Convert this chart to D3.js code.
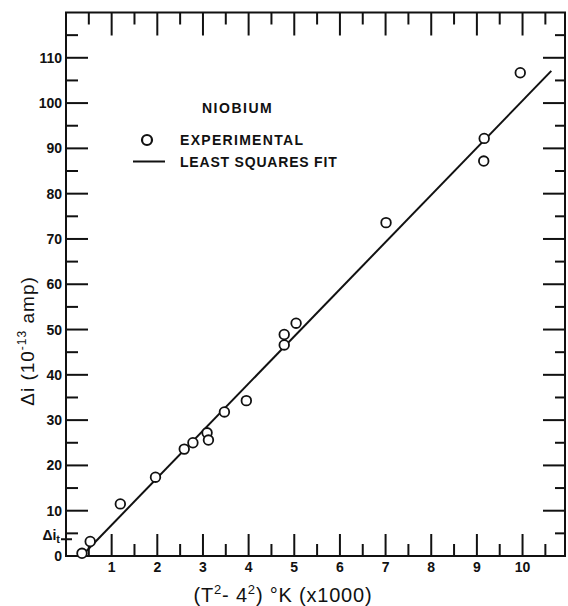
<html>
<head>
	<meta charset="utf-8">
	<title>Niobium</title>
</head>
<style>
	body { margin: 0; background: #fff; }
	.lab { font-family: "Liberation Sans", Arial, sans-serif; font-weight: bold; font-size: 14px; fill: #111; }
	.title { font-family: "Liberation Sans", Arial, sans-serif; fill: #111; }
</style>
<body>
	<script src="https://cdn.jsdelivr.net/npm/d3@7"></script>
	<script>
	// measured points (T^2 - 4^2, x1000) vs delta i (10^-13 amp)
	var expX = [0.35, 0.53, 1.19, 1.96, 2.59, 2.78, 3.09, 3.12, 3.47, 3.95, 4.78, 4.78, 5.04, 7.01, 9.15, 9.16, 9.95];
	var expY = [0.6, 3.2, 11.5, 17.4, 23.6, 25.0, 27.2, 25.6, 31.8, 34.3, 46.6, 48.9, 51.4, 73.6, 87.2, 92.2, 106.7];
	// least squares fit end points
	var fitX = [0.39, 10.63];
	var fitY = [0.5, 107.1];
	var xTicks = [1, 2, 3, 4, 5, 6, 7, 8, 9, 10];
	var yTicks = [0, 10, 20, 30, 40, 50, 60, 70, 80, 90, 100, 110];
	var threshold = 3.7;

	var width = 568, height = 606;
	var fLeft = 66, fRight = 565, fTop = 12.5, fBottom = 556;

	var svg = d3.select("body").append("svg")
		.attr("width", width)
		.attr("height", height);

	var x = d3.scaleLinear().domain([0, 10.93]).range([fLeft, fRight]);
	var y = d3.scaleLinear().domain([0, 120]).range([fBottom, fTop]);

	// tick lists for the frame (majors on the integers / tens, minors between)
	var xMinor = d3.range(0.5, 10.9, 1);
	var yMinor = d3.range(5, 120, 10);

	var g = svg.append("g").attr("stroke", "#111").attr("stroke-width", 2).attr("fill", "none");

	// bottom + top ticks
	g.selectAll(".xb").data(xTicks).enter().append("line")
		.attr("x1", function(d){return x(d);}).attr("x2", function(d){return x(d);})
		.attr("y1", fBottom).attr("y2", fBottom - 22);
	g.selectAll(".xbm").data(xMinor).enter().append("line")
		.attr("x1", function(d){return x(d);}).attr("x2", function(d){return x(d);})
		.attr("y1", fBottom).attr("y2", fBottom - 12);
	g.selectAll(".xt").data(xTicks).enter().append("line")
		.attr("x1", function(d){return x(d);}).attr("x2", function(d){return x(d);})
		.attr("y1", fTop).attr("y2", fTop + 23);
	g.selectAll(".xtm").data(xMinor).enter().append("line")
		.attr("x1", function(d){return x(d);}).attr("x2", function(d){return x(d);})
		.attr("y1", fTop).attr("y2", fTop + 12);

	// left + right ticks
	g.selectAll(".yl").data(yTicks.slice(1)).enter().append("line")
		.attr("x1", fLeft).attr("x2", fLeft + 22)
		.attr("y1", function(d){return y(d);}).attr("y2", function(d){return y(d);});
	g.selectAll(".ylm").data(yMinor).enter().append("line")
		.attr("x1", fLeft).attr("x2", fLeft + 12)
		.attr("y1", function(d){return y(d);}).attr("y2", function(d){return y(d);});
	g.selectAll(".yr").data(yTicks.slice(1)).enter().append("line")
		.attr("x1", fRight).attr("x2", fRight - 22)
		.attr("y1", function(d){return y(d);}).attr("y2", function(d){return y(d);});
	g.selectAll(".yrm").data(yMinor).enter().append("line")
		.attr("x1", fRight).attr("x2", fRight - 10)
		.attr("y1", function(d){return y(d);}).attr("y2", function(d){return y(d);});

	// threshold mark
	g.append("line")
		.attr("x1", fLeft - 5).attr("x2", fLeft + 6)
		.attr("y1", y(threshold)).attr("y2", y(threshold));

	// frame
	g.append("rect")
		.attr("x", fLeft).attr("y", fTop)
		.attr("width", fRight - fLeft).attr("height", fBottom - fTop);

	// tick labels
	svg.selectAll(".xlab").data(xTicks).enter().append("text")
		.attr("class", "lab")
		.attr("x", function(d){return x(d);})
		.attr("y", 572)
		.attr("text-anchor", "middle")
		.text(function(d){return d;});
	svg.selectAll(".ylab").data(yTicks).enter().append("text")
		.attr("class", "lab")
		.attr("x", 62)
		.attr("y", function(d){return y(d) + 5;})
		.attr("text-anchor", "end")
		.text(function(d){return d;});

	var th = svg.append("text").attr("class", "lab")
		.attr("x", 60).attr("y", y(threshold) + 1)
		.attr("text-anchor", "end")
		.attr("font-size", "15px");
	th.append("tspan").text("Δi");
	th.append("tspan").attr("dy", 3).attr("font-size", "11px").text("t");

	// fit line
	var fit = fitX.map(function(d, i){return [d, fitY[i]];});
	svg.append("path")
		.datum(fit)
		.attr("d", d3.line().x(function(d){return x(d[0]);}).y(function(d){return y(d[1]);}))
		.attr("stroke", "#111").attr("stroke-width", 2).attr("fill", "none");

	// experimental points
	svg.selectAll(".pt").data(expX).enter().append("circle")
		.attr("cx", function(d){return x(d);})
		.attr("cy", function(d, i){return y(expY[i]);})
		.attr("r", 4.8)
		.attr("fill", "#fff")
		.attr("stroke", "#111")
		.attr("stroke-width", 1.8);

	// legend
	svg.append("text").attr("class", "lab").attr("x", 202).attr("y", 113)
		.attr("letter-spacing", "1.5px").text("NIOBIUM");
	svg.append("circle").attr("cx", 147).attr("cy", 140).attr("r", 5)
		.attr("fill", "none").attr("stroke", "#111").attr("stroke-width", 2.2);
	svg.append("text").attr("class", "lab").attr("x", 180).attr("y", 145)
		.attr("letter-spacing", "1.3px").text("EXPERIMENTAL");
	svg.append("line").attr("x1", 133).attr("x2", 165).attr("y1", 161.5).attr("y2", 161.5)
		.attr("stroke", "#111").attr("stroke-width", 2);
	svg.append("text").attr("class", "lab").attr("x", 180).attr("y", 166.5)
		.attr("letter-spacing", "0.8px").text("LEAST SQUARES FIT");

	// axis titles
	var xt = svg.append("text").attr("class", "title")
		.attr("x", 283).attr("y", 602)
		.attr("text-anchor", "middle")
		.attr("font-size", "20px")
		.attr("letter-spacing", "0.8px");
	xt.append("tspan").text("(T");
	xt.append("tspan").attr("dy", -8).attr("font-size", "13px").text("2");
	xt.append("tspan").attr("dy", 8).text("- 4");
	xt.append("tspan").attr("dy", -8).attr("font-size", "13px").text("2");
	xt.append("tspan").attr("dy", 8).text(") °K (x1000)");

	var yt = svg.append("text").attr("class", "title")
		.attr("transform", "translate(34,341) rotate(-90)")
		.attr("text-anchor", "middle")
		.attr("font-size", "19px")
		.attr("letter-spacing", "1px");
	yt.append("tspan").text("Δi   (10");
	yt.append("tspan").attr("dy", -8).attr("font-size", "12px").text("-13");
	yt.append("tspan").attr("dy", 8).text(" amp)");
	</script>
</body>
</html>
